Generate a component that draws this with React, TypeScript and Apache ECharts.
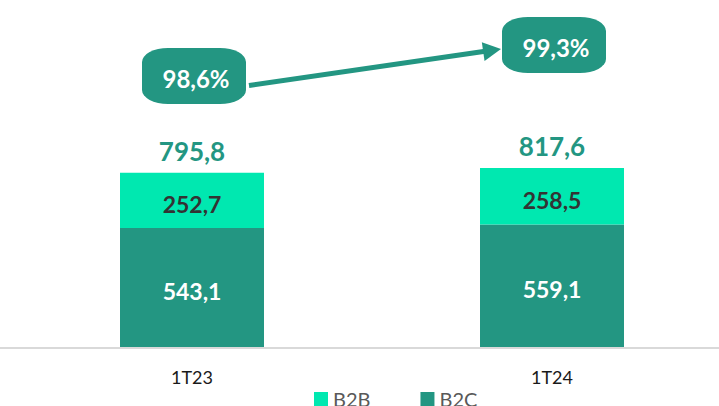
import React, { useEffect, useRef } from "react";
import * as echarts from "echarts";

const categories = ["1T23", "1T24"];
const b2c = [543.1, 559.1];
const b2b = [252.7, 258.5];
const totals = [795.8, 817.6];
const shares = [98.6, 99.3];

const TEAL = "#239682";
const MINT = "#00E8B0";
const FONT = "Lato, 'Open Sans', sans-serif";

const fmt = (v: number) => v.toFixed(1).replace(".", ",");

export default function App() {
  const ref = useRef<HTMLDivElement>(null);

  useEffect(() => {
    document.body.style.margin = "0";
    if (!ref.current) return;
    const chart = echarts.init(ref.current, null, { renderer: "svg" });
    chart.setOption({
      animation: false,
      backgroundColor: "#ffffff",
      textStyle: { fontFamily: FONT },
      legend: {
        data: ["B2B", "B2C"],
        left: 309,
        top: 384,
        itemWidth: 14,
        itemHeight: 14,
        itemGap: 50,
        icon: "rect",
        textStyle: { fontSize: 20, color: "#595959", fontFamily: FONT },
      },
      grid: [
        { left: 192, right: 167, top: 128, bottom: 59 },
        { left: 192, right: 167, top: 45, height: 31 },
      ],
      xAxis: [
        {
          type: "category",
          gridIndex: 0,
          data: categories,
          boundaryGap: false,
          axisLine: { show: false },
          axisTick: { show: false },
          axisLabel: { fontSize: 18, color: "#1a1a1a", margin: 21, fontFamily: FONT },
        },
        {
          type: "category",
          gridIndex: 1,
          data: categories,
          boundaryGap: false,
          show: false,
        },
      ],
      yAxis: [
        { type: "value", gridIndex: 0, min: 0, max: 1000, show: false },
        { type: "value", gridIndex: 1, min: 98.6, max: 99.3, show: false },
      ],
      series: [
        {
          name: "B2C",
          type: "bar",
          stack: "t",
          data: b2c,
          barWidth: 144,
          clip: false,
          itemStyle: { color: TEAL },
          label: {
            show: true,
            position: "inside",
            offset: [0, 3],
            formatter: (p: any) => fmt(p.value),
            color: "#ffffff",
            fontSize: 23,
            fontWeight: "bold",
            fontFamily: FONT,
          },
        },
        {
          name: "B2B",
          type: "bar",
          stack: "t",
          data: b2b,
          barWidth: 144,
          clip: false,
          itemStyle: { color: MINT },
          label: {
            show: true,
            position: "inside",
            offset: [0, 4],
            formatter: (p: any) => fmt(p.value),
            color: "#333333",
            fontSize: 23,
            fontWeight: "bold",
            fontFamily: FONT,
          },
        },
        {
          name: "Total",
          type: "bar",
          data: totals,
          barWidth: 144,
          barGap: "-100%",
          clip: false,
          z: 0,
          itemStyle: { color: "rgba(0,0,0,0)" },
          label: {
            show: true,
            position: "top",
            distance: 9,
            formatter: (p: any) => fmt(p.value),
            color: TEAL,
            fontSize: 26,
            fontWeight: "bold",
            fontFamily: FONT,
          },
        },
        {
          name: "Share",
          type: "scatter",
          xAxisIndex: 1,
          yAxisIndex: 1,
          data: shares,
          clip: false,
          symbol: "roundRect",
          symbolSize: [104, 56],
          symbolOffset: [2, 0],
          itemStyle: { color: TEAL, opacity: 1 },
          z: 5,
          label: {
            show: true,
            position: "inside",
            offset: [2, 2],
            formatter: (p: any) => fmt(p.value) + "%",
            color: "#ffffff",
            fontSize: 24,
            fontWeight: "bold",
            fontFamily: FONT,
          },
        },
      ],
    });

    const p1 = chart.convertToPixel({ seriesIndex: 3 }, [0, shares[0]]) as number[];
    const p2 = chart.convertToPixel({ seriesIndex: 3 }, [1, shares[1]]) as number[];
    const axisY = chart.convertToPixel({ yAxisIndex: 0 }, 0) as number;
    const sx = p1[0] + 57;
    const sy = p1[1] + 9.5;
    const ex = p2[0] - 51;
    const ey = p2[1] + 4;
    const dx = ex - sx;
    const dy = ey - sy;
    const len = Math.sqrt(dx * dx + dy * dy);
    const ux = dx / len;
    const uy = dy / len;
    const headLen = 18;
    const headHalf = 9.5;
    const bx = ex - ux * headLen;
    const by = ey - uy * headLen;
    const nx = -uy;
    const ny = ux;

    chart.setOption({
      graphic: [
        {
          type: "line",
          shape: { x1: 0, y1: axisY + 1, x2: 719, y2: axisY + 1 },
          style: { stroke: "#D9D9D9", lineWidth: 2 },
          z: 1,
        },
        {
          type: "line",
          shape: { x1: sx, y1: sy, x2: bx + ux * 2, y2: by + uy * 2 },
          style: { stroke: TEAL, lineWidth: 5 },
          z: 10,
        },
        {
          type: "polygon",
          shape: {
            points: [
              [ex, ey],
              [bx + nx * headHalf, by + ny * headHalf],
              [bx - nx * headHalf, by - ny * headHalf],
            ],
          },
          style: { fill: TEAL },
          z: 10,
        },
      ],
    });

    return () => chart.dispose();
  }, []);

  return <div ref={ref} style={{ width: 719, height: 406 }} />;
}
